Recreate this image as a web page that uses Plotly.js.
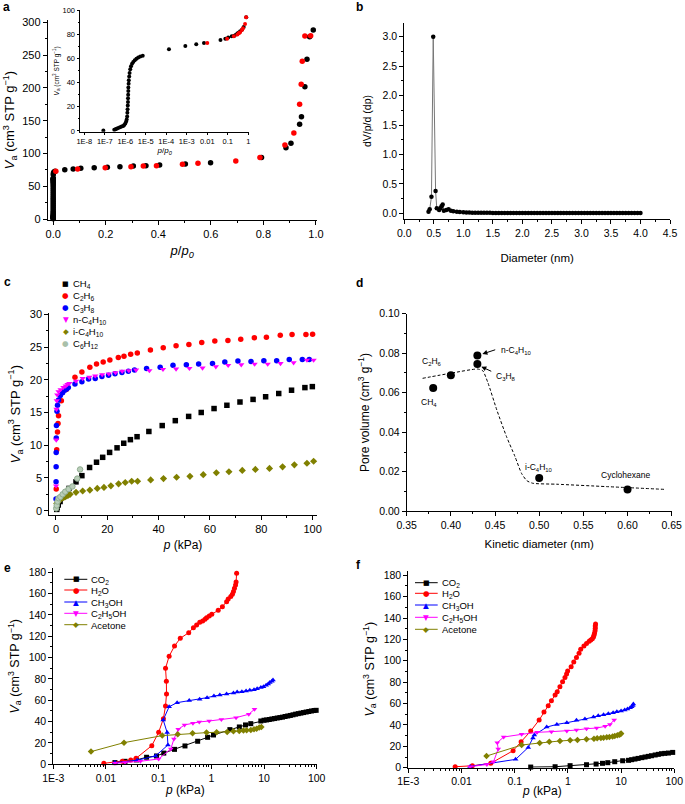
<!DOCTYPE html>
<html><head><meta charset="utf-8">
<script src="https://cdn.plot.ly/plotly-3.0.1.min.js"></script>
<style>html,body{margin:0;padding:0;background:#fff}</style>
</head><body><div id="chart" style="width:685px;height:804px"></div>
<script>
// ---------- Panel a : N2 isotherm (adsorption black, desorption red) ----------
const aAdsP = [8.5e-8, 2.9e-7, 3.3e-7, 3.8e-7, 4.5e-7, 5.5e-7, 6.6e-7, 7.9e-7, 8.9e-7, 1.0e-6, 1.1e-6, 1.17e-6, 1.23e-6, 1.26e-6, 1.29e-6, 1.32e-6, 1.35e-6, 1.36e-6, 1.38e-6, 1.4e-6, 1.41e-6, 1.45e-6, 1.48e-6, 1.55e-6, 1.62e-6, 1.74e-6, 1.9e-6, 2.14e-6, 2.45e-6, 2.9e-6, 3.5e-6, 4.3e-6, 5.4e-6, 7.1e-6, 1.35e-4, 8.5e-4, 2.9e-3, 6.9e-3, 0.044, 0.076, 0.105, 0.156, 0.206, 0.254, 0.305, 0.353, 0.405, 0.503, 0.599, 0.793, 0.886, 0.905, 0.938, 0.945, 0.958, 0.966, 0.976, 0.99];
const aAdsV = [0.3, 1.0, 1.4, 1.9, 2.4, 3.0, 3.6, 4.2, 5.0, 6.2, 7.8, 9.5, 12, 15, 18, 21, 24, 27, 30, 33, 36, 39, 42, 45, 48, 51, 53.5, 55.5, 57, 58.5, 59.8, 60.8, 61.5, 62.2, 67.5, 70.2, 71.6, 72.7, 75.2, 76.3, 77.3, 78.3, 78.8, 79.8, 80.8, 81.3, 82.4, 83.9, 85.9, 94, 108.8, 115.4, 144.4, 156, 201.8, 243.5, 278, 288.3];
const aDesP = [0.01, 0.093, 0.198, 0.296, 0.343, 0.393, 0.492, 0.551, 0.695, 0.787, 0.882, 0.916, 0.938, 0.944, 0.948, 0.958, 0.98];
const aDesV = [72.7, 76.3, 78.3, 79.8, 80.8, 81.3, 83.4, 84.9, 88.5, 94, 112.9, 131.2, 174.9, 205.4, 240.5, 279, 279.6];
const aInsetTicks = [1e-8, 1e-7, 1e-6, 1e-5, 1e-4, 1e-3, 0.01, 0.1, 1];
const aInsetTickText = ['1E-8', '1E-7', '1E-6', '1E-5', '1E-4', '1E-3', '0.01', '0.1', '1'];

// ---------- Panel b : pore size distribution ----------
const bDiam = [0.41, 0.43, 0.46, 0.49, 0.53, 0.55, 0.59, 0.61, 0.63, 0.65, 0.67, 0.71, 0.75, 0.79, 0.83, 0.89, 0.94,
  1.00, 1.05, 1.10, 1.15, 1.20, 1.25, 1.30, 1.35, 1.40, 1.45, 1.50, 1.55, 1.60, 1.65, 1.70, 1.75, 1.80, 1.85, 1.90, 1.95,
  2.00, 2.05, 2.10, 2.15, 2.20, 2.25, 2.30, 2.35, 2.40, 2.45, 2.50, 2.55, 2.60, 2.65, 2.70, 2.75, 2.80, 2.85, 2.90, 2.95,
  3.00, 3.05, 3.10, 3.15, 3.20, 3.25, 3.30, 3.35, 3.40, 3.45, 3.50, 3.55, 3.60, 3.65, 3.70, 3.75, 3.80, 3.85, 3.90, 3.95, 4.00];
const bDV = [0.028, 0.068, 0.28, 3.0, 0.38, 0.085, 0.057, 0.085, 0.12, 0.15, 0.045, 0.057, 0.068, 0.045, 0.034, 0.028, 0.023,
  0.017, 0.014, 0.012, 0.011, 0.010, 0.010, 0.009, 0.009, 0.008, 0.008, 0.007, 0.007, 0.007, 0.006, 0.006, 0.006, 0.006, 0.005, 0.005, 0.005,
  0.005, 0.005, 0.005, 0.004, 0.004, 0.004, 0.004, 0.004, 0.004, 0.004, 0.004, 0.004, 0.003, 0.003, 0.003, 0.003, 0.003, 0.003, 0.003, 0.003,
  0.003, 0.003, 0.003, 0.003, 0.003, 0.003, 0.003, 0.003, 0.003, 0.003, 0.003, 0.003, 0.003, 0.003, 0.003, 0.003, 0.003, 0.003, 0.003, 0.003, 0.003];

// ---------- Panel c : hydrocarbon isotherms ----------
const cCH4P = [0.3, 0.5, 0.9, 1.6, 2.6, 3.9, 5.1, 7.8, 10.1, 13.1, 15.8, 18.2, 20.9, 23.8, 26.4, 29, 31.6, 36.2, 41.4, 46.5, 51.7, 56.6, 61.6, 66.6, 71.7, 76.8, 81.7, 86.8, 91.8, 97, 99.9];
const cCH4V = [0.2, 0.5, 0.87, 1.4, 2.1, 2.75, 3.4, 4.4, 5.35, 6.6, 7.4, 8.15, 8.9, 9.6, 10.3, 10.85, 11.3, 12.1, 13.0, 13.75, 14.4, 15.0, 15.6, 16.1, 16.6, 17.0, 17.4, 17.9, 18.4, 18.8, 18.95];
const cC2H6P = [0.1, 0.3, 0.6, 0.8, 1.0, 2.1, 4.0, 7.4, 10.1, 13.2, 15.8, 18.4, 21, 24.3, 26.5, 29.1, 31.7, 36.8, 41.8, 46.8, 51.8, 56.8, 61.9, 67, 72, 77.3, 82, 87.4, 92, 97.4, 100];
const cC2H6V = [3.3, 9.3, 12.0, 13.3, 14.5, 16.8, 18.5, 20.4, 21.2, 21.9, 22.4, 22.7, 23.0, 23.4, 23.6, 23.9, 24.1, 24.55, 24.9, 25.2, 25.4, 25.7, 25.9, 26.0, 26.2, 26.4, 26.5, 26.8, 26.9, 26.9, 26.95];
const cC3H8P = [0.02, 0.04, 0.06, 0.09, 0.12, 0.18, 0.4, 0.6, 1.0, 1.7, 2.6, 3.4, 4.2, 4.8, 7.4, 10.1, 12.7, 15.3, 17.9, 20.5, 23, 25.7, 28.2, 30.6, 35.3, 40.6, 45.6, 50.8, 55.6, 61, 65.8, 70.9, 76, 81, 86, 90.9, 96, 98.7];
const cC3H8V = [1.8, 4.4, 6.7, 8.9, 11.1, 13.0, 15.2, 16.1, 16.9, 17.6, 18.0, 18.4, 18.6, 18.8, 19.35, 19.7, 20.1, 20.2, 20.5, 20.7, 20.9, 21.1, 21.3, 21.5, 21.7, 21.9, 22.2, 22.3, 22.4, 22.5, 22.7, 22.85, 22.8, 22.9, 22.9, 23.1, 23.1, 23.1];
const cnC4P = [0.05, 0.1, 0.2, 0.3, 0.5, 1.0, 1.8, 2.9, 3.8, 4.5, 5.2, 7.8, 10.4, 13, 15.3, 18, 20.6, 23.2, 25.8, 28.4, 31.2, 36.4, 41.7, 46.8, 52, 57.1, 62.3, 67.1, 72.2, 77.4, 82.5, 87.5, 92.6, 97.8, 100.4];
const cnC4V = [3.8, 10.8, 15.5, 16.8, 17.7, 18.2, 18.5, 18.85, 19.05, 19.3, 19.45, 19.8, 20.2, 20.4, 20.6, 20.8, 20.9, 21.1, 21.3, 21.4, 21.5, 21.4, 21.6, 21.65, 21.75, 21.8, 22.0, 22.2, 22.3, 22.4, 22.4, 22.5, 22.6, 23.0, 23.0];
const ciC4P = [0.3, 0.9, 1.6, 2.2, 2.9, 3.5, 4.2, 4.8, 5.5, 7.8, 10.4, 13.2, 16.1, 18.7, 21.4, 24.4, 27, 29.5, 31.8, 36.9, 41.9, 47, 52.2, 57.4, 62.5, 67.4, 72.6, 77.7, 83.2, 88.3, 92.9, 97.8, 100.4];
const ciC4V = [1.1, 1.4, 1.7, 1.9, 2.0, 2.1, 2.25, 2.35, 2.5, 2.8, 3.0, 3.15, 3.4, 3.55, 3.8, 4.1, 4.3, 4.5, 4.5, 4.7, 4.9, 5.1, 5.25, 5.5, 5.8, 5.95, 6.15, 6.3, 6.45, 6.7, 7.0, 7.25, 7.55];
const cC6H12P = [0.1, 0.3, 0.6, 1.0, 1.7, 2.6, 3.6, 4.9, 6.4, 8.3, 9.4];
const cC6H12V = [0.35, 0.8, 1.4, 1.9, 2.1, 2.5, 2.9, 3.3, 3.7, 4.9, 6.3];

// ---------- Panel d : pore volume vs kinetic diameter ----------
const dKinDiam = [0.38, 0.40, 0.43, 0.43, 0.50, 0.60];
const dPoreVol = [0.0624, 0.0688, 0.0745, 0.0788, 0.0169, 0.0110];
const dGuideX = [0.368, 0.40, 0.43, 0.436, 0.442, 0.452, 0.463, 0.4726, 0.48, 0.486, 0.4926, 0.52, 0.576, 0.642];
const dGuideY = [0.0673, 0.0699, 0.0720, 0.0712, 0.0650, 0.0513, 0.0378, 0.0277, 0.0192, 0.0155, 0.0142, 0.0137, 0.0125, 0.0111];

// ---------- Panel e : vapour isotherms ----------
const eCO2P = [0.0148, 0.023, 0.038, 0.059, 0.091, 0.125, 0.2, 0.316, 0.55, 0.85, 1.1, 2.25, 3.4, 4.45, 5.6, 8.7, 10, 11.2, 12.6, 14.1, 15.8, 17.8, 20, 22.4, 25.1, 28.2, 31.6, 35.5, 39.8, 44.7, 50.1, 56.2, 63.1, 70.8, 79.4, 89.1, 97.7];
const eCO2V = [1.6, 2.8, 4.1, 6.6, 7.8, 10.5, 14, 17.2, 21.6, 25.3, 27.5, 32.5, 35, 36.9, 38.1, 40.6, 41.3, 41.6, 42, 42.5, 42.9, 43.4, 43.8, 44.2, 44.8, 45.3, 45.8, 46.4, 47, 47.5, 48, 48.5, 49, 49.5, 50, 50.4, 50.6];
const eH2OP = [0.0091, 0.0204, 0.0295, 0.0372, 0.0741, 0.1, 0.123, 0.135, 0.141, 0.14, 0.135, 0.158, 0.2, 0.257, 0.372, 0.457, 0.525, 0.603, 0.684, 0.759, 0.813, 0.912, 1.02, 1.35, 1.62, 1.95, 2.09, 2.34, 2.51, 2.63, 2.75, 2.88, 2.95, 3.02];
const eH2OV = [0.9, 2.8, 4.1, 5.6, 17.5, 30, 42.8, 54.7, 65.9, 77.8, 90, 101.3, 110.9, 118.1, 123.4, 128.1, 130.6, 133.1, 134.4, 136, 137.5, 139, 140.6, 144.4, 147.8, 152.5, 155, 157.2, 159.4, 161.9, 165, 168, 171, 179];
const eMeOHP = [0.0148, 0.039, 0.087, 0.15, 0.145, 0.122, 0.158, 0.224, 0.38, 0.6, 0.83, 1.12, 1.45, 1.95, 2.63, 3.09, 3.8, 4.57, 5.37, 6.46, 7.41, 8.71, 9.77, 10.96, 12.02, 12.88, 14.1, 14.8];
const eMeOHV = [1.6, 3.8, 7.8, 18.1, 29.7, 41.6, 54, 57.8, 59.7, 61, 62.5, 64, 65, 66, 66.9, 67.8, 68.1, 68.8, 69.4, 70, 70.9, 71.9, 72.8, 74.1, 75.3, 76.6, 77.8, 79];
const eEtOHP = [0.0148, 0.023, 0.045, 0.1, 0.17, 0.195, 0.235, 0.31, 0.447, 0.59, 0.91, 1.55, 2.95, 5.13, 6.6];
const eEtOHV = [1.0, 1.6, 2.8, 5, 14.4, 23.8, 32.8, 36.9, 38.4, 39.7, 40.6, 41.9, 43.75, 46.9, 51.6];
const eAcetP = [0.0052, 0.022, 0.117, 0.23, 0.44, 0.81, 1.26, 2.0, 2.63, 3.39, 4.07, 4.68, 5.62, 6.46, 7.24, 8.13, 8.91];
const eAcetV = [11.9, 20.3, 26.9, 28.1, 29.1, 29.7, 30, 30.3, 30.9, 31.25, 31.6, 31.9, 32.2, 32.8, 33.4, 34.4, 35];

// ---------- Panel f : vapour isotherms ----------
const fCO2P = [0.2, 0.575, 1.1, 2.24, 3.39, 4.47, 5.62, 7.59, 10.7, 13.8, 15.8, 18.2, 20.9, 24.5, 28.2, 32.4, 37.2, 43.7, 50.1, 57.5, 66.1, 77.6, 93.3];
const fCO2V = [0.6, 0.9, 1.9, 2.8, 3.4, 4.1, 4.7, 5.6, 6.5, 6.9, 7.5, 8.1, 8.7, 9.4, 10, 10.6, 11.2, 11.9, 12.5, 13.1, 13.4, 13.7, 14.3];
const fH2OP = [0.0076, 0.016, 0.0355, 0.0933, 0.132, 0.2, 0.288, 0.355, 0.427, 0.49, 0.575, 0.63, 0.708, 0.794, 0.881, 0.944, 0.989, 1.15, 1.29, 1.45, 1.62, 1.74, 2.0, 2.24, 2.51, 2.69, 2.88, 3.02, 3.09, 3.16, 3.24, 3.27, 3.27, 3.31];
const fH2OV = [0.9, 1.8, 4.1, 15.9, 24.3, 34.3, 44.6, 52.1, 58, 62.7, 68, 71, 75.8, 80.5, 84.5, 87.6, 90.5, 94.5, 98.9, 103.2, 107, 110.7, 113.9, 116.3, 118.2, 119.5, 120.7, 122.3, 123.8, 125.7, 128.2, 130.4, 132.6, 134.4];
const fMeOHP = [0.0145, 0.104, 0.18, 0.22, 0.234, 0.4, 0.62, 0.955, 1.45, 2.09, 3.02, 3.72, 4.68, 5.75, 7.08, 8.32, 10, 11.7, 13.2, 14.8, 15.8, 16.6, 17];
const fMeOHV = [1.2, 7.8, 19, 27.8, 30.6, 38, 40.5, 42.1, 44.3, 45.5, 47.4, 48.7, 49.6, 50.5, 51.5, 52.4, 53, 54, 54.9, 56.1, 57.1, 58.3, 59.6];
const fEtOHP = [0.0145, 0.03, 0.04, 0.049, 0.047, 0.062, 0.135, 0.263, 0.49, 0.955, 1.45, 2.24, 3.47, 5.01, 6.17, 7.41];
const fEtOHV = [1.0, 3.0, 5.6, 17.5, 23.4, 28.7, 31.2, 33.1, 33.7, 34.3, 35.2, 36.5, 37.1, 38.7, 40.5, 44.6];
const fAcetP = [0.0295, 0.135, 0.295, 0.447, 0.708, 1.1, 1.51, 2.24, 3.09, 3.55, 4.17, 4.68, 5.37, 6.03, 6.92, 7.59, 8.51, 9.33, 9.77, 10];
const fAcetV = [10.9, 21.2, 23.1, 24.3, 25, 25.6, 25.9, 26.5, 27.1, 27.5, 27.8, 28.1, 28.4, 28.7, 29.3, 29.6, 30.3, 30.9, 31.5, 32.1];

const logTickVals = [1e-3, 1e-2, 1e-1, 1, 10, 100];
const logTickText = ['1E-3', '0.01', '0.1', '1', '10', '100'];

// ---------- helpers ----------
const W = 685, H = 804;
const F = 'Liberation Sans, Arial, Helvetica, sans-serif';
const px = v => v / W;
const py = v => 1 - v / H;
const VA = '<i>V</i><sub>a</sub> (cm<sup>3</sup> STP g<sup>−1</sup>)';
const PKPA = '<i>p</i> (kPa)';
const PP0 = '<i>p</i>/<i>p</i><sub><i>0</i></sub>';

const minorLog = [];
[-3, -2, -1, 0, 1].forEach(e => { for (let k = 2; k <= 9; k++) minorLog.push(k * Math.pow(10, e)); });

function ax(o) {
  const base = {showline: true, linecolor: '#000', linewidth: 1, ticks: 'outside', ticklen: 4, tickwidth: 1,
    tickcolor: '#000', showgrid: false, zeroline: false, mirror: false, fixedrange: true,
    tickfont: {family: F, size: 11, color: '#000'}};
  return Object.assign(base, o);
}
function mn(d, len) { return {ticks: 'outside', ticklen: len || 2, tickwidth: 1, tickcolor: '#000', dtick: d, showgrid: false}; }
function ttl(t, s, so) { return {text: t, font: {family: F, size: s, color: '#000'}, standoff: so}; }

const traces = [];
// Panel a main
traces.push({x: aAdsP, y: aAdsV, xaxis: 'x', yaxis: 'y', mode: 'markers', name: 'Adsorption', showlegend: false, cliponaxis: false, marker: {color: '#000', size: 5.5}});
traces.push({x: aDesP, y: aDesV, xaxis: 'x', yaxis: 'y', mode: 'markers', name: 'Desorption', showlegend: false, cliponaxis: false, marker: {color: '#ff0000', size: 5.5}});
// inset
traces.push({x: aAdsP, y: aAdsV, xaxis: 'x2', yaxis: 'y2', mode: 'markers', name: 'Adsorption', showlegend: false, marker: {color: '#000', size: 4}});
traces.push({x: aDesP, y: aDesV, xaxis: 'x2', yaxis: 'y2', mode: 'markers', name: 'Desorption', showlegend: false, marker: {color: '#ff0000', size: 4}});
// Panel b
traces.push({x: bDiam, y: bDV, xaxis: 'x3', yaxis: 'y3', mode: 'lines+markers', name: 'PSD', showlegend: false, cliponaxis: false,
  line: {color: '#777', width: 1}, marker: {color: '#000', size: 4.5}});
// Panel c
const cSeries = [
  ['CH<sub>4</sub>', cCH4P, cCH4V, '#000000', 'square', '#000000'],
  ['C<sub>2</sub>H<sub>6</sub>', cC2H6P, cC2H6V, '#ff0000', 'circle', '#ff0000'],
  ['C<sub>3</sub>H<sub>8</sub>', cC3H8P, cC3H8V, '#0000ff', 'circle', '#0000ff'],
  ['n-C<sub>4</sub>H<sub>10</sub>', cnC4P, cnC4V, '#ff00ff', 'triangle-down', '#ff00ff'],
  ['i-C<sub>4</sub>H<sub>10</sub>', ciC4P, ciC4V, '#808000', 'diamond', '#808000'],
  ['C<sub>6</sub>H<sub>12</sub>', cC6H12P, cC6H12V, '#b9cdb9', 'circle', '#8fac8f']
];
cSeries.forEach(s => traces.push({x: s[1], y: s[2], xaxis: 'x4', yaxis: 'y4', mode: 'markers', name: s[0], showlegend: false, cliponaxis: false,
  marker: {color: s[3], symbol: s[4], size: 5.5, line: {color: s[5], width: s[3] === '#b9cdb9' ? 1 : 0}}}));
// Panel d
traces.push({x: dGuideX, y: dGuideY, xaxis: 'x5', yaxis: 'y5', mode: 'lines', name: 'guide', showlegend: false,
  line: {color: '#000', width: 1, dash: '3px,2px', shape: 'spline', smoothing: 0.6}});
traces.push({x: dKinDiam, y: dPoreVol, xaxis: 'x5', yaxis: 'y5', mode: 'markers', name: 'Pore volume', showlegend: false, cliponaxis: false,
  marker: {color: '#000', size: 8}});
// Panel e & f
const vapStyle = [
  ['CO<sub>2</sub>', '#000000', 'square'],
  ['H<sub>2</sub>O', '#ff0000', 'circle'],
  ['CH<sub>3</sub>OH', '#0000ff', 'triangle-up'],
  ['C<sub>2</sub>H<sub>5</sub>OH', '#ff00ff', 'triangle-down'],
  ['Acetone', '#808000', 'diamond']
];
const eData = [[eCO2P, eCO2V], [eH2OP, eH2OV], [eMeOHP, eMeOHV], [eEtOHP, eEtOHV], [eAcetP, eAcetV]];
const fData = [[fCO2P, fCO2V], [fH2OP, fH2OV], [fMeOHP, fMeOHV], [fEtOHP, fEtOHV], [fAcetP, fAcetV]];
[[eData, 'x6', 'y6'], [fData, 'x7', 'y7']].forEach(([dat, xa, ya]) => {
  dat.forEach((d, i) => traces.push({x: d[0], y: d[1], xaxis: xa, yaxis: ya, mode: 'lines+markers', name: vapStyle[i][0], showlegend: false, cliponaxis: false,
    line: {color: vapStyle[i][1], width: 1}, marker: {color: vapStyle[i][1], symbol: vapStyle[i][2], size: 5}}));
});

// ---------- annotations ----------
const ann = [];
function lab(t, x, y) { ann.push({text: '<b>' + t + '</b>', x: px(x), y: py(y), xref: 'paper', yref: 'paper', xanchor: 'left', yanchor: 'middle', showarrow: false, font: {family: F, size: 12, color: '#000'}}); }
lab('a', 1, 6.5); lab('b', 354, 7); lab('c', 2, 281.5); lab('d', 354, 282.5); lab('e', 2, 568); lab('f', 354, 565);

function glyph(ch, col, x, y, s) { ann.push({text: ch, x: px(x), y: py(y), xref: 'paper', yref: 'paper', xanchor: 'center', yanchor: 'middle', showarrow: false, font: {family: 'DejaVu Sans', size: s, color: col}}); }
function ltxt(t, x, y, s) { ann.push({text: t, x: px(x), y: py(y), xref: 'paper', yref: 'paper', xanchor: 'left', yanchor: 'middle', showarrow: false, font: {family: F, size: s, color: '#000'}}); }
const glyphFor = {'square': '■', 'circle': '●', 'triangle-up': '▲', 'triangle-down': '▼', 'diamond': '◆'};
// legend c
const cLegY = [283.5, 295.3, 307.3, 319.2, 331.7, 343.5];
cSeries.forEach((s, i) => { glyph(glyphFor[s[4]], s[3] === '#b9cdb9' ? '#a9c0a9' : s[3], 65.7, cLegY[i], s[4] === 'square' ? 7 : 7.5); ltxt(s[0], 71, cLegY[i] + 0.5, 9.5); });
// legend e / f
const shapes = [];
const eLegY = [579.3, 590, 602, 613.3, 624.7];
const fLegY = [582.7, 593.3, 605, 617.3, 629.3];
vapStyle.forEach((s, i) => {
  shapes.push({type: 'line', xref: 'paper', yref: 'paper', x0: px(64.3), x1: px(87.3), y0: py(eLegY[i]), y1: py(eLegY[i]), line: {color: s[1], width: 1}});
  glyph(glyphFor[s[2]], s[1], 76, eLegY[i], s[2] === 'square' ? 7 : 7.5);
  ltxt(s[0], 89, eLegY[i] + 0.5, 9.5);
  shapes.push({type: 'line', xref: 'paper', yref: 'paper', x0: px(415), x1: px(437.7), y0: py(fLegY[i]), y1: py(fLegY[i]), line: {color: s[1], width: 1}});
  glyph(glyphFor[s[2]], s[1], 426.3, fLegY[i], s[2] === 'square' ? 7 : 7.5);
  ltxt(s[0], 439.5, fLegY[i] + 0.5, 9.5);
});
// x-axis titles of panels e and f, placed to match the reference spacing
ann.push({text: PKPA, x: px(185), y: py(790), xref: 'paper', yref: 'paper', xanchor: 'center', yanchor: 'middle', showarrow: false, font: {family: F, size: 12, color: '#000'}});
ann.push({text: PKPA, x: px(541.5), y: py(791), xref: 'paper', yref: 'paper', xanchor: 'center', yanchor: 'middle', showarrow: false, font: {family: F, size: 12, color: '#000'}});
// panel d labels
function dl(t, x, y, xa) { ann.push({text: t, x: x, y: y, xref: 'x5', yref: 'y5', xanchor: xa, yanchor: 'middle', showarrow: false, font: {family: F, size: 8.5, color: '#000'}}); }
dl('C<sub>2</sub>H<sub>6</sub>', 0.379, 0.0757, 'center');
dl('CH<sub>4</sub>', 0.3753, 0.0551, 'center');
dl('n-C<sub>4</sub>H<sub>10</sub>', 0.4545, 0.0812, 'left');
dl('C<sub>3</sub>H<sub>8</sub>', 0.4490, 0.0684, 'left');
dl('i-C<sub>4</sub>H<sub>10</sub>', 0.5002, 0.0224, 'center');
dl('Cyclohexane', 0.5972, 0.0184, 'center');
ann.push({text: '', x: 0.4357, y: 0.0796, ax: 0.4519, ay: 0.0820, xref: 'x5', yref: 'y5', axref: 'x5', ayref: 'y5', showarrow: true, arrowhead: 2, arrowsize: 1, arrowwidth: 1, arrowcolor: '#000'});
ann.push({text: '', x: 0.4345, y: 0.0732, ax: 0.4474, ay: 0.0705, xref: 'x5', yref: 'y5', axref: 'x5', ayref: 'y5', showarrow: true, arrowhead: 2, arrowsize: 1, arrowwidth: 1, arrowcolor: '#000'});

const layout = {
  width: W, height: H, margin: {l: 0, r: 0, t: 0, b: 0}, paper_bgcolor: '#fff', plot_bgcolor: 'rgba(0,0,0,0)',
  showlegend: false, font: {family: F, color: '#000'},
  xaxis: ax({domain: [px(47.7), px(316.7)], range: [-0.021, 1.003], anchor: 'y', dtick: 0.2, tick0: 0, tickformat: '.1f', minor: mn(0.1),
    title: ttl(PP0, 13, 6)}),
  yaxis: ax({domain: [py(220), py(20)], range: [-1.5, 303.5], anchor: 'x', dtick: 50, tick0: 0, minor: mn(25), title: ttl(VA, 13, 4)}),
  xaxis2: ax({type: 'log', domain: [px(80), px(249.3)], range: [-8.21, 0.05], anchor: 'y2', tickmode: 'array', tickvals: aInsetTicks, ticktext: aInsetTickText,
    ticklen: 2.5, tickfont: {family: F, size: 7.5, color: '#000'}, title: ttl(PP0, 8, 2)}),
  yaxis2: ax({domain: [py(131.7), py(10)], range: [-0.6, 100], anchor: 'x2', dtick: 20, tick0: 0, ticklen: 2.5, minor: mn(10, 1.5),
    tickfont: {family: F, size: 7.5, color: '#000'}, title: ttl(VA, 6.5, 2)}),
  xaxis3: ax({domain: [px(404.3), px(670)], range: [0, 4.5], anchor: 'y3', dtick: 0.5, tick0: 0, tickformat: '.1f', minor: mn(0.25),
    tickfont: {family: F, size: 10.5, color: '#000'}, title: ttl('Diameter (nm)', 11.5, 16)}),
  yaxis3: ax({domain: [py(219.3), py(22.7)], range: [-0.102, 3.238], anchor: 'x3', dtick: 0.5, tick0: 0, tickformat: '.1f', minor: mn(0.25),
    tickfont: {family: F, size: 10.5, color: '#000'}, title: ttl('dV/p/d (dp)', 10.5, 8)}),
  xaxis4: ax({domain: [px(49.3), px(316.7)], range: [-2.6, 101.6], anchor: 'y4', dtick: 20, tick0: 0, minor: mn(10),
    title: ttl(PKPA, 12, 6)}),
  yaxis4: ax({domain: [py(515), py(313.3)], range: [-0.66, 30.15], anchor: 'x4', dtick: 5, tick0: 0, minor: mn(2.5), title: ttl(VA, 13, 6)}),
  xaxis5: ax({domain: [px(406.7), px(671.7)], range: [0.35, 0.65], anchor: 'y5', dtick: 0.05, tick0: 0.35, tickformat: '.2f', minor: mn(0.025),
    tickfont: {family: F, size: 10.5, color: '#000'}, title: ttl('Kinetic diameter (nm)', 11.5, 10)}),
  yaxis5: ax({domain: [py(511.3), py(313.7)], range: [0, 0.1], anchor: 'x5', dtick: 0.02, tick0: 0, tickformat: '.2f', minor: mn(0.01),
    tickfont: {family: F, size: 10.5, color: '#000'}, title: ttl('Pore volume (cm<sup>3</sup> g<sup>−1</sup>)', 12, 6)}),
  xaxis6: ax({type: 'log', domain: [px(53.3), px(316.7)], range: [-3, 2], anchor: 'y6', tickmode: 'array', tickvals: logTickVals, ticktext: logTickText,
    minor: {ticks: 'outside', ticklen: 2, tickwidth: 1, tickcolor: '#000', tickvals: minorLog, showgrid: false},
    tickfont: {family: F, size: 10.5, color: '#000'}}),
  yaxis6: ax({domain: [py(764.3), py(568.3)], range: [0, 183.75], anchor: 'x6', dtick: 20, tick0: 0, minor: mn(10),
    tickfont: {family: F, size: 10.5, color: '#000'}, title: ttl(VA, 12.5, 6)}),
  xaxis7: ax({type: 'log', domain: [px(408.3), px(674.3)], range: [-3, 2], anchor: 'y7', tickmode: 'array', tickvals: logTickVals, ticktext: logTickText,
    minor: {ticks: 'outside', ticklen: 2, tickwidth: 1, tickcolor: '#000', tickvals: minorLog, showgrid: false},
    tickfont: {family: F, size: 10.5, color: '#000'}}),
  yaxis7: ax({domain: [py(767.7), py(570.7)], range: [0, 184.3], anchor: 'x7', dtick: 20, tick0: 0, minor: mn(10),
    tickfont: {family: F, size: 10.5, color: '#000'}, title: ttl(VA, 12.5, 6)}),
  annotations: ann,
  shapes: shapes
};

Plotly.newPlot('chart', traces, layout, {displayModeBar: false, staticPlot: true});
</script></body></html>
